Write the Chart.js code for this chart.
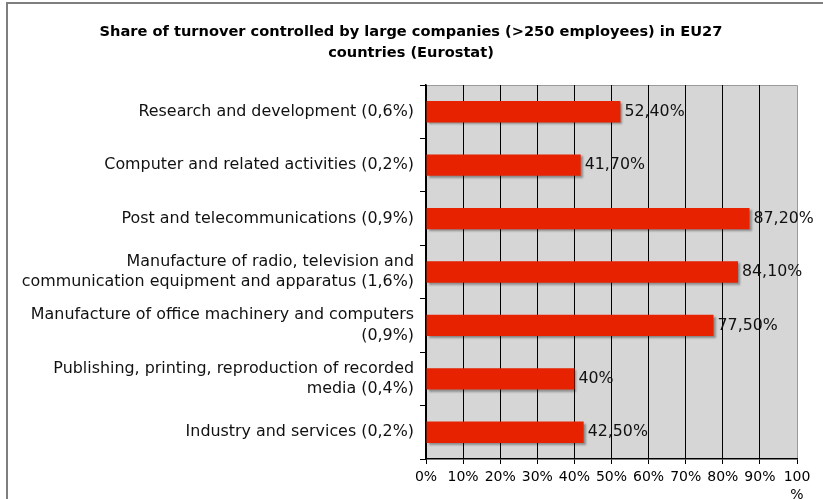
<!DOCTYPE html>
<html>
<head>
<meta charset="utf-8">
<script src="https://cdn.jsdelivr.net/npm/chart.js@4.4.1/dist/chart.umd.min.js"></script>
<style>
  html, body { margin: 0; padding: 0; background: #fff; }
  #wrap { position: relative; width: 823px; height: 499px; }
</style>
</head>
<body>
<div id="wrap"><canvas id="turnoverChart" width="823" height="499"></canvas></div>
<script>
const categories = [
  'Research and development (0,6%)',
  'Computer and related activities (0,2%)',
  'Post and telecommunications (0,9%)',
  ['Manufacture of radio, television and', 'communication equipment and apparatus (1,6%)'],
  ['Manufacture of office machinery and computers', '(0,9%)'],
  ['Publishing, printing, reproduction of recorded', 'media (0,4%)'],
  'Industry and services (0,2%)'
];
const shares = [52.4, 41.7, 87.2, 84.1, 77.5, 40, 42.5];
const shareLabels = ['52,40%', '41,70%', '87,20%', '84,10%', '77,50%', '40%', '42,50%'];
const xTicks = [0, 10, 20, 30, 40, 50, 60, 70, 80, 90, 100];

const FONT = '"DejaVu Sans", Verdana, sans-serif';

// grey plot background, outer frame and title
const decor = {
  id: 'decor',
  beforeDraw(chart) {
    const { ctx, chartArea: a } = chart;
    ctx.save();
    ctx.fillStyle = '#d6d6d6';
    ctx.fillRect(a.left, a.top, a.right - a.left, a.bottom - a.top);
    ctx.strokeStyle = '#9a9a9a';
    ctx.lineWidth = 1;
    ctx.beginPath();
    ctx.moveTo(a.left, a.top + 0.5);
    ctx.lineTo(a.right + 0.5, a.top + 0.5);
    ctx.lineTo(a.right + 0.5, a.bottom);
    ctx.stroke();
    // outer frame
    ctx.strokeStyle = '#7f7f7f';
    ctx.lineWidth = 2;
    ctx.beginPath();
    ctx.moveTo(7, 499);
    ctx.lineTo(7, 3);
    ctx.lineTo(823, 3);
    ctx.stroke();
    // title
    ctx.fillStyle = '#000';
    ctx.font = 'bold 14.6px ' + FONT;
    ctx.textAlign = 'center';
    ctx.textBaseline = 'middle';
    ctx.fillText('Share of turnover controlled by large companies (>250 employees) in EU27', 411, 32);
    ctx.fillText('countries (Eurostat)', 411, 53);
    ctx.restore();
  },
  beforeDatasetsDraw(chart) {
    const ctx = chart.ctx;
    ctx.save();
    ctx.shadowColor = 'rgba(0,0,0,0.35)';
    ctx.shadowOffsetX = 2;
    ctx.shadowOffsetY = 2;
    ctx.shadowBlur = 2;
  },
  afterDatasetsDraw(chart) {
    const ctx = chart.ctx;
    ctx.restore();
    const meta = chart.getDatasetMeta(0);
    ctx.save();
    ctx.fillStyle = '#111';
    ctx.font = '15.8px ' + FONT;
    ctx.textAlign = 'left';
    ctx.textBaseline = 'middle';
    meta.data.forEach((bar, i) => {
      ctx.fillText(shareLabels[i], bar.x + 4, bar.y);
    });
    ctx.restore();
  }
};

new Chart(document.getElementById('turnoverChart'), {
  type: 'bar',
  data: {
    labels: categories,
    datasets: [{
      data: shares,
      backgroundColor: '#e62200',
      borderWidth: 0,
      categoryPercentage: 0.4,
      barPercentage: 1
    }]
  },
  options: {
    indexAxis: 'y',
    responsive: false,
    animation: false,
    layout: { padding: { top: 85, right: 26, left: 0, bottom: 0 } },
    plugins: { legend: { display: false }, tooltip: { enabled: false } },
    scales: {
      x: {
        min: 0,
        max: 100,
        afterBuildTicks(scale) { scale.ticks = xTicks.map(v => ({ value: v })); },
        grid: {
          color: ctx => (ctx.tick && ctx.tick.value === 100) ? 'rgba(0,0,0,0)' : '#000',
          tickColor: '#000',
          tickLength: 5,
          lineWidth: 1
        },
        border: { color: '#000', width: 1.5 },
        ticks: {
          color: '#000',
          font: { family: FONT, size: 14, lineHeight: 1.25 },
          padding: 5,
          maxRotation: 0,
          autoSkip: false,
          callback: v => v === 100 ? ['100', '%'] : v + '%'
        },
        afterFit(scale) { scale.height = 40; }
      },
      y: {
        grid: { drawOnChartArea: false, color: '#000', tickLength: 6 },
        border: { color: '#000', width: 1.5 },
        ticks: {
          color: '#111',
          font: { family: FONT, size: 15.9, lineHeight: 1.27 },
          padding: 6,
          autoSkip: false
        },
        afterFit(scale) { scale.width = 426; }
      }
    }
  },
  plugins: [decor]
});
</script>
</body>
</html>
